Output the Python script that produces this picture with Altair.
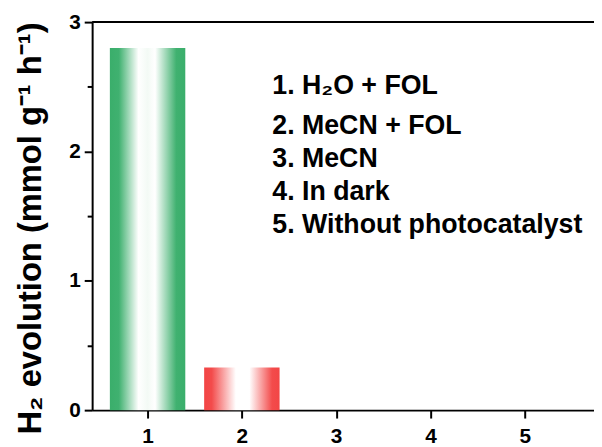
import altair as alt
import pandas as pd

# ---- data ----
conditions = [1, 2, 3, 4, 5]
h2_rates = [2.80, 0.33, 0.0, 0.0, 0.0]
x_ticks = [1, 2, 3, 4, 5]
y_ticks = [0, 0.5, 1, 1.5, 2, 2.5, 3]
legend_lines = ["1. H\u2082O + FOL", "2. MeCN + FOL", "3. MeCN", "4. In dark",
                "5. Without photocatalyst"]
y_title = "H\u2082 evolution (mmol g\u207b\u00b9 h\u207b\u00b9)"

df = pd.DataFrame({"cond": conditions, "rate": h2_rates})
df["left"] = df["cond"] - 0.4
df["right"] = df["cond"] + 0.4
df["zero"] = 0.0

FONT = "Liberation Sans"
W, H = 507, 392
px_per_unit = 95.25
xscale = alt.Scale(domain=[0.412, 0.412 + W / px_per_unit], nice=False, zero=False)
yscale = alt.Scale(domain=[0, 3], nice=False, zero=True)


def gradient(stops_pos):
    return alt.LinearGradient(
        gradient="linear",
        stops=[alt.GradientStop(color=c, offset=o) for o, c in stops_pos],
        x1=0, x2=1, y1=0, y2=0,
    )


green = "#3aae6b"
red = "#f24545"
green_grad = gradient([
    (0.0, green), (0.12, "#40b170"), (0.38, "#ffffff"), (0.5, "#f3faf5"),
    (0.6, "#ffffff"), (0.88, "#40b170"), (1.0, green)])
red_grad = gradient([
    (0.0, red), (0.1, "#f34b4b"), (0.42, "#ffffff"), (0.6, "#ffffff"),
    (0.9, "#f34b4b"), (1.0, red)])

x_axis = alt.Axis(values=x_ticks, format="d", title=None, grid=False,
                  labelFont=FONT, labelFontSize=21, labelFontWeight="bold",
                  labelColor="black", labelPadding=8, tickSize=8, tickWidth=2,
                  tickColor="black", domainColor="black", domainWidth=2)
y_axis = alt.Axis(values=y_ticks, grid=False, title=y_title,
                  labelExpr="datum.value % 1 === 0 ? format(datum.value, 'd') : ''",
                  labelFont=FONT, labelFontSize=21, labelFontWeight="bold",
                  labelColor="black", labelPadding=4,
                  tickSize={"condition": {"test": "datum.value % 1 === 0", "value": 8}, "value": 5},
                  tickWidth=2, tickColor="black", domainColor="black", domainWidth=2,
                  titleFont=FONT, titleFontSize=33, titleFontWeight="bold",
                  titleColor="black", titleAngle=270, titleAlign="center",
                  titleBaseline="middle", titleX=-62, titleY=208)

bar1 = alt.Chart(df).transform_filter("datum.cond == 1").mark_rect(
    color=green_grad).encode(
    x=alt.X("left:Q", scale=xscale, axis=x_axis),
    x2="right:Q",
    y=alt.Y("zero:Q", scale=yscale, axis=y_axis),
    y2="rate:Q",
)
bar2 = alt.Chart(df).transform_filter("datum.cond == 2").mark_rect(
    color=red_grad).encode(
    x=alt.X("left:Q", scale=xscale),
    x2="right:Q",
    y=alt.Y("zero:Q", scale=yscale),
    y2="rate:Q",
)

one = pd.DataFrame({"k": [0]})
top_line = alt.Chart(one).mark_rule(color="black", strokeWidth=2).encode(
    x=alt.value(0), x2=alt.value(W), y=alt.value(0))

text_style = dict(align="left", baseline="alphabetic", font=FONT, fontSize=27,
                  fontWeight="bold", color="black")
legend1 = alt.Chart(one).mark_text(**text_style).encode(
    x=alt.value(182), y=alt.value(73), text=alt.value(legend_lines[0]))
legend_rest = alt.Chart(one).mark_text(lineHeight=33.5, **text_style).encode(
    x=alt.value(182), y=alt.value(113), text=alt.value(legend_lines[1:]))

chart = alt.layer(bar1, bar2, top_line, legend1, legend_rest).properties(
    width=W, height=H,
    autosize=alt.AutoSizeParams(type="none"),
    padding={"left": 85, "top": 12, "right": 0, "bottom": 36},
    background="white",
).configure_view(stroke=None)

chart.save("out.html", embed_options={"renderer": "svg", "actions": False})
